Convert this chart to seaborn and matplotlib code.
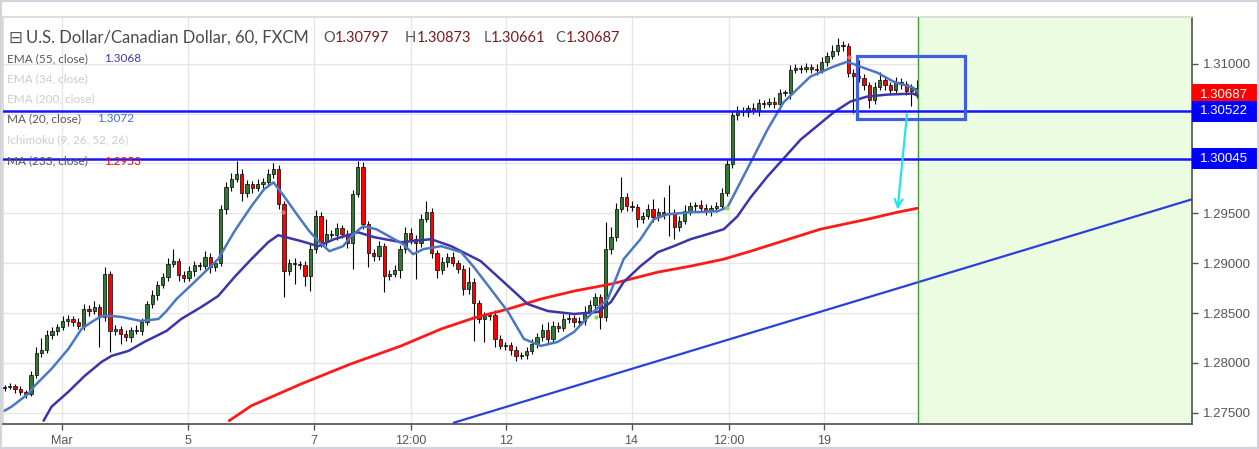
import numpy as np
import pandas as pd
import seaborn as sns
import matplotlib.pyplot as plt
import matplotlib.transforms as mtransforms
from matplotlib.patches import Rectangle

# 2-hour candles, USD/CAD
closes = [
    1.2776, 1.2777, 1.2774, 1.2771, 1.2769, 1.2788, 1.2810, 1.2813, 1.2828, 1.2832,
    1.2836, 1.2842, 1.2844, 1.2841, 1.2837, 1.2854, 1.2852, 1.2856, 1.2846, 1.2889,
    1.2832, 1.2834, 1.2829, 1.2826, 1.2833, 1.2832, 1.2841, 1.2859, 1.2868, 1.2878,
    1.2886, 1.2899, 1.2902, 1.2888, 1.2885, 1.2892, 1.2898, 1.2897, 1.2906, 1.2896,
    1.2900, 1.2954, 1.2976, 1.2984, 1.2989, 1.2970, 1.2979, 1.2975, 1.2979, 1.2981,
    1.2989, 1.2994, 1.2959, 1.2892, 1.2900, 1.2899, 1.2898, 1.2887, 1.2914, 1.2947,
    1.2921, 1.2929, 1.2928, 1.2935, 1.2929, 1.2920, 1.2969, 1.2996, 1.2939, 1.2910,
    1.2907, 1.2917, 1.2887, 1.2889, 1.2893, 1.2914, 1.2930, 1.2924, 1.2920, 1.2944,
    1.2951, 1.2910, 1.2893, 1.2901, 1.2906, 1.2900, 1.2894, 1.2874, 1.2881, 1.2860,
    1.2844, 1.2847, 1.2848, 1.2824, 1.2817, 1.2818, 1.2813, 1.2807, 1.2808, 1.2812,
    1.2819, 1.2826, 1.2833, 1.2824, 1.2837, 1.2835, 1.2844, 1.2845, 1.2841, 1.2842,
    1.2851, 1.2858, 1.2866, 1.2846, 1.2914, 1.2926, 1.2954, 1.2966, 1.2957, 1.2956,
    1.2944, 1.2947, 1.2954, 1.2946, 1.2951, 1.2949, 1.2950, 1.2936, 1.2942, 1.2952,
    1.2957, 1.2958, 1.2955, 1.2952, 1.2955, 1.2957, 1.2970, 1.2999, 1.3049, 1.3053,
    1.3052, 1.3056, 1.3053, 1.3061, 1.3060, 1.3062, 1.3060, 1.3071, 1.3071, 1.3094,
    1.3096, 1.3095, 1.3097, 1.3095, 1.3094, 1.3102, 1.3108, 1.3113, 1.3119, 1.3118,
    1.3091, 1.3088, 1.3086, 1.3079, 1.3064, 1.3077, 1.3084, 1.3079, 1.3074, 1.3082,
    1.3080, 1.3073, 1.3076, 1.3069,
]
first_open = 1.2775

# wick lengths above / below the body, in pips
wick_up = [
    2, 3, 2, 3, 2, 4, 6, 12, 5, 4,   3, 5, 4, 3, 4, 5, 4, 6, 3, 7,
    3, 4, 3, 4, 3, 5, 4, 3, 5, 4,    4, 6, 12, 3, 4, 5, 4, 3, 6, 4,
    3, 4, 5, 6, 13, 5, 4, 3, 5, 4,   5, 6, 4, 3, 4, 5, 3, 4, 5, 6,
    4, 15, 4, 5, 3, 4, 4, 6, 5, 3,   4, 5, 3, 4, 5, 4, 6, 5, 4, 5,
    11, 4, 3, 5, 4, 5, 3, 4, 15, 4,  3, 4, 3, 5, 4, 3, 3, 4, 3, 4,
    5, 4, 6, 8, 5, 4, 5, 4, 3, 4,    6, 5, 4, 3, 27, 10, 6, 20, 4, 5,
    3, 4, 5, 10, 4, 15, 28, 4, 5, 6, 4, 3, 5, 4, 3, 4, 5, 4, 4, 5,
    4, 3, 5, 4, 3, 4, 5, 4, 3, 5,    4, 3, 4, 3, 5, 5, 4, 6, 7, 4,
    3, 4, 16, 4, 3, 5, 8, 4, 3, 5,   4, 3, 4, 8,
]
wick_dn = [
    3, 2, 4, 3, 4, 2, 3, 4, 3, 4,    4, 3, 5, 4, 3, 4, 5, 3, 30, 4,
    21, 4, 10, 4, 5, 3, 4, 3, 4, 5,  3, 4, 3, 6, 4, 3, 5, 4, 3, 6,
    4, 3, 5, 4, 3, 8, 4, 5, 3, 4,    3, 4, 5, 26, 4, 20, 4, 10, 15, 4,
    5, 4, 3, 5, 4, 5, 26, 3, 5, 14,  5, 4, 16, 4, 3, 8, 4, 5, 36, 4,
    3, 5, 8, 4, 5, 3, 4, 6, 5, 38,   4, 23, 4, 8, 3, 4, 5, 5, 3, 4,
    3, 4, 4, 5, 3, 4, 3, 4, 5, 3,    4, 3, 4, 12, 4, 5, 4, 3, 5, 4,
    8, 4, 3, 5, 4, 5, 22, 12, 4, 3,  4, 5, 3, 4, 5, 4, 3, 3, 4, 5,
    4, 5, 3, 5, 4, 3, 4, 5, 3, 6,    3, 4, 3, 4, 5, 3, 4, 3, 4, 5,
    4, 37, 4, 5, 8, 4, 3, 5, 4, 3,   5, 4, 15, 3,
]

# moving averages, sampled at bar positions
ma20_x = [0, 1.3, 4.5, 5.7, 8.9, 12.1, 14.6, 16.5, 18.4, 20.3, 22.2, 25.9, 29.2, 30.7,
          32.6, 36, 40.5, 43.6, 46.8, 49.2, 51, 53, 55.7, 57.8, 59.7, 61.6, 64.2, 66.1,
          68, 70.5, 72.9, 75.6, 77.5, 79.4, 82.8, 86.6, 89, 92.2, 95.5, 98.5, 101.7,
          104.9, 108, 111.2, 114.4, 117.4, 120.6, 123.1, 125.8, 130.1, 135.2, 137.1,
          141.5, 144.7, 147.7, 152.8, 157.2, 159.8, 162.3, 165.5, 168.6, 172.3, 173.1]
ma20_y = [1.2752, 1.2756, 1.2769, 1.2777, 1.2794, 1.2814, 1.2834, 1.2841, 1.2847, 1.2847,
          1.2846, 1.2842, 1.2844, 1.2852, 1.2864, 1.2881, 1.2904, 1.2932, 1.2957, 1.2974,
          1.2981, 1.2967, 1.2947, 1.2932, 1.2921, 1.2912, 1.2917, 1.2929, 1.2937, 1.2934,
          1.2927, 1.2919, 1.2909, 1.2914, 1.2917, 1.2911, 1.2896, 1.2874, 1.2851, 1.2824,
          1.2817, 1.2821, 1.2831, 1.2849, 1.2864, 1.2904, 1.2924, 1.2944, 1.2949, 1.2951,
          1.2952, 1.2956, 1.3001, 1.3034, 1.3061, 1.3087, 1.3097, 1.3102, 1.3097, 1.3091,
          1.3082, 1.3076, 1.3072]
ema55_x = [7.4, 8.9, 12.1, 15.2, 18.4, 20.3, 23.5, 26.5, 30.7, 33.5, 37.3, 40.5, 43.6,
           46.8, 50, 51.9, 56.3, 59.5, 62.5, 67, 70.1, 75.2, 80.9, 84.7, 90.3, 95.5, 99.2,
           103, 108, 112.5, 115, 117.4, 120.6, 123.9, 126.9, 130.1, 133.3, 136.4, 139,
           141.5, 144.7, 151, 157.2, 160.4, 163.6, 167.4, 172.3, 173.1]
ema55_y = [1.2742, 1.2756, 1.2771, 1.2787, 1.2801, 1.2807, 1.2812, 1.2821, 1.2832, 1.2844,
           1.2856, 1.2867, 1.2886, 1.2904, 1.2921, 1.2928, 1.2922, 1.2917, 1.2924, 1.2931,
           1.2926, 1.2921, 1.2924, 1.2917, 1.2902, 1.2877, 1.2859, 1.2852, 1.2849, 1.2851,
           1.2861, 1.2881, 1.2897, 1.2911, 1.2917, 1.2924, 1.2929, 1.2934, 1.2947, 1.2966,
           1.2987, 1.3024, 1.3051, 1.3062, 1.3067, 1.3069, 1.3070, 1.3068]
ma233_x = [42.6, 46.8, 56.3, 65.7, 75.2, 82.8, 89, 95.5, 101.7, 108, 115, 123.9, 130.1,
           136.4, 141.5, 154.7, 163.6, 169.3, 173.1]
ma233_y = [1.2742, 1.2757, 1.2779, 1.2799, 1.2817, 1.2834, 1.2845, 1.2854, 1.2864, 1.2872,
           1.2879, 1.2891, 1.2897, 1.2904, 1.2912, 1.2934, 1.2944, 1.2951, 1.2955]

tick_pos = [10.8, 34.7, 58.6, 77.1, 95.1, 118.9, 137.3, 155.5]
tick_labels = ['Mar', '5', '7', '12:00', '12', '14', '12:00', '19']
price_ticks = [1.275, 1.280, 1.285, 1.290, 1.295, 1.300, 1.305, 1.310]

levels = [1.30522, 1.30045]
last_price = 1.30687
ohlc = [('O', '1.30797'), ('H', '1.30873'), ('L', '1.30661'), ('C', '1.30687')]
legend_rows = [('EMA (55, close)', '1.3068', '#3b3aa6'),
               ('EMA (34, close)', None, None),
               ('EMA (200, close)', None, None),
               ('MA (20, close)', '1.3072', '#4470c4'),
               ('Ichimoku (9, 26, 52, 26)', None, None),
               ('MA (233, close)', '1.2953', '#ff0000')]

# build the candle table
df = pd.DataFrame({'close': closes})
df['open'] = [first_open] + closes[:-1]
df['high'] = df[['open', 'close']].max(axis=1) + np.array(wick_up) / 10000
df['low'] = df[['open', 'close']].min(axis=1) - np.array(wick_dn) / 10000
df['bar'] = np.arange(len(df))
up = df['close'] >= df['open']

sns.set_theme(style='white')
plt.rcParams['font.family'] = ['Lato', 'DejaVu Sans']

fig = plt.figure(figsize=(12.59, 4.49), dpi=100)
ax = fig.add_axes([3 / 1259, 25 / 449, 1189 / 1259, 407 / 449])
ax.set_xlim(-0.3, 225.2)
ax.set_ylim(1.27387, 1.31468)

# grid
for t in tick_pos:
    ax.axvline(t, color='#e6e6e6', lw=1, zorder=0)
for p in price_ticks:
    ax.axhline(p, color='#e6e6e6', lw=1, zorder=0)

# future zone
ax.axvspan(173.3, 225.2, color='#ebfce0', zorder=0.5, lw=0)
ax.axvline(173.3, color='#3d9a3d', lw=1, zorder=6)

# trend line
ax.plot([85.2, 225.2], [1.2740, 1.2964], color='#2b40d8', lw=1.6, zorder=3)

# candles
ax.vlines(df['bar'], df['low'], df['high'], color='black', lw=0.8, zorder=4)
body_h = (df['close'] - df['open']).abs().clip(lower=0.00004)
body_b = df[['open', 'close']].min(axis=1)
ax.bar(df['bar'][up], body_h[up], bottom=body_b[up], width=0.62, color='#327a34',
       edgecolor='black', lw=0.5, zorder=5)
ax.bar(df['bar'][~up], body_h[~up], bottom=body_b[~up], width=0.62, color='#ff0000',
       edgecolor='black', lw=0.5, zorder=5)

# moving averages
sns.lineplot(x=ma233_x, y=ma233_y, ax=ax, color='#ff1a1a', lw=2, zorder=6)
sns.lineplot(x=ema55_x, y=ema55_y, ax=ax, color='#3a36a6', lw=1.8, zorder=6)
sns.lineplot(x=ma20_x, y=ma20_y, ax=ax, color='#4a78c2', lw=1.8, zorder=6)

# indicator dots
ax.scatter([52.8, 160.2], [1.2951, 1.3107], s=10, color='#ef6b6b', zorder=7, lw=0)
ax.scatter([112.1, 137.1], [1.2846, 1.2955], s=10, color='#8fdc5a', zorder=7, lw=0)

# support / resistance lines
for lv in levels:
    ax.axhline(lv, color='#1414ff', lw=1.8, zorder=7)

# box and arrow
ax.add_patch(Rectangle((161.6, 1.3045), 20.6, 0.0063, fill=False, ec='#3f5fdc',
                       lw=2.3, zorder=8))
ax.annotate('', xy=(169.3, 1.2951), xytext=(171.2, 1.3052),
            arrowprops=dict(arrowstyle='->', color='#22e4f0', lw=1.6,
                            mutation_scale=14), zorder=8)

# axes styling (labels hidden behind the price boxes are left blank)
hidden = [1.300, 1.305]
ax.set_xticks(tick_pos)
ax.set_xticklabels(tick_labels)
ax.set_yticks(price_ticks)
ax.set_yticklabels(['' if p in hidden else '%.5f' % p for p in price_ticks])
ax.yaxis.tick_right()
ax.tick_params(axis='x', bottom=True, length=4, width=1, color='#555555', pad=4,
               labelsize=9, labelcolor='#555555')
ax.tick_params(axis='y', right=True, length=4, width=1, color='#555555', pad=4,
               labelsize=9.5, labelcolor='#555555')
for lab in ax.get_xticklabels() + ax.get_yticklabels():
    lab.set_fontfamily(['Liberation Sans', 'DejaVu Sans'])
ax.set_xlabel('')
ax.set_ylabel('')
ax.spines['right'].set_color('#555555')
ax.spines['bottom'].set_color('#555555')
ax.spines['left'].set_color('#d8d8d8')
ax.spines['top'].set_color('#d8d8d8')

# price labels on the right axis
trans = mtransforms.blended_transform_factory(ax.transAxes, ax.transData)
for price, col in [(last_price, '#ff0000'), (levels[0], '#0000ff'), (levels[1], '#0000ff')]:
    ax.add_patch(Rectangle((1.0, price - 0.00105), 65 / 1189, 0.0021, transform=trans,
                           color=col, clip_on=False, zorder=20, lw=0))
    ax.text(1.0 + 8 / 1189, price, '%.5f' % price, transform=trans, color='white',
            fontsize=9.5, va='center', ha='left', zorder=21,
            family=['Liberation Sans', 'DejaVu Sans'])

# header
fig.text(8 / 1259, 1 - 38 / 449, '\u229f', fontsize=12, color='#555555', va='center',
         family=['DejaVu Sans'])
fig.text(26 / 1259, 1 - 38 / 449, 'U.S. Dollar/Canadian Dollar, 60, FXCM', fontsize=12,
         color='#4a4a4a', va='center')
ohlc_x = [323, 405, 484, 555]
ohlc_gap = [12, 12, 7, 11]
for (k, v), px, g in zip(ohlc, ohlc_x, ohlc_gap):
    fig.text(px / 1259, 1 - 38 / 449, k, fontsize=10.5, color='#555555', va='center')
    fig.text((px + g) / 1259, 1 - 38 / 449, v, fontsize=10.5, color='#7a1c1c', va='center')

# indicator legend
row_y = [59, 79, 99, 119, 140, 161]
val_x = [104, None, None, 97, None, 104]
for (name, val, col), py, vx in zip(legend_rows, row_y, val_x):
    fig.text(7 / 1259, 1 - py / 449, name, fontsize=8.5, va='center',
             color='#555555' if val else '#cccccc')
    if val:
        fig.text(vx / 1259, 1 - py / 449, val, fontsize=8.5, va='center', color=col)

# outer frame
fig.patches.append(Rectangle((0, 0), 1, 1, transform=fig.transFigure, fill=False,
                             ec='#d1d4dc', lw=3))

fig.savefig('out.png', dpi=100)
